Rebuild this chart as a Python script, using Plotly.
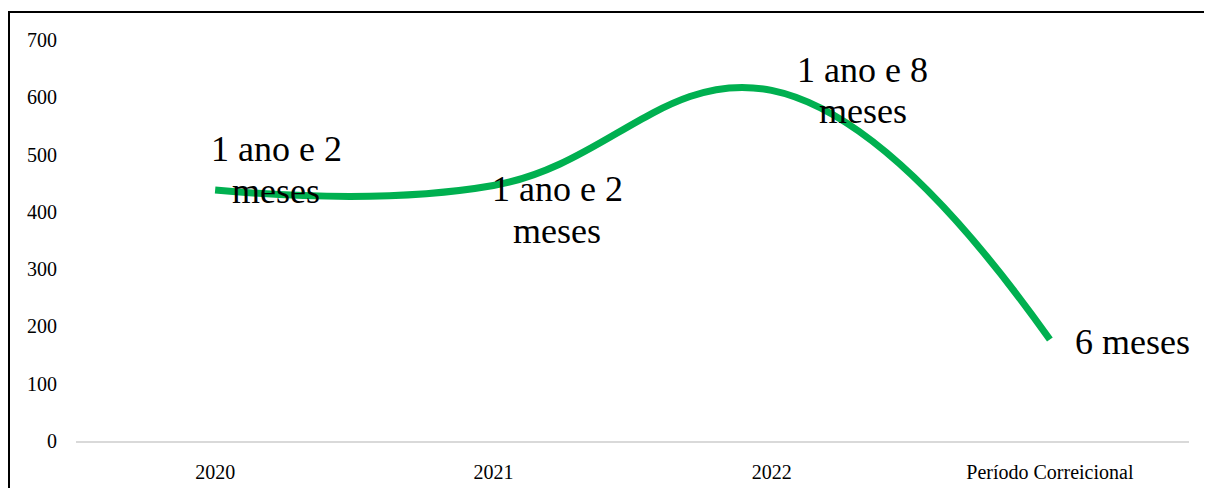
import plotly.graph_objects as go

categories = ["2020", "2021", "2022", "Período Correicional"]
values = [438, 446, 612, 177]
labels = [["1 ano e 2", "meses"], ["1 ano e 2", "meses"], ["1 ano e 8", "meses"], ["6 meses"]]
y_ticks = [0, 100, 200, 300, 400, 500, 600, 700]

# label placement (pixel offsets from the point): (xshift, [yshift per line], xanchor)
label_pos = [
    (61, [41, -1], "center"),
    (64, [-3, -45], "center"),
    (91, [20, -21], "center"),
    (23, [-2], "left"),
]

FONT = "Times New Roman, Liberation Serif, serif"

fig = go.Figure()
fig.add_trace(go.Scatter(
    x=categories, y=values, mode="lines",
    line=dict(color="#00B050", width=7, shape="spline", smoothing=1.2),
    hoverinfo="skip", showlegend=False,
))

annotations = []
for i, (val, lines, (xs, yss, xa)) in enumerate(zip(values, labels, label_pos)):
    for line, ys in zip(lines, yss):
        annotations.append(dict(
            x=i, y=val, xref="x", yref="y", text=line, showarrow=False,
            xshift=xs, yshift=ys, xanchor=xa, yanchor="middle",
            font=dict(family=FONT, size=36, color="black"),
        ))

# page body adds an 8px offset; compensate
OFF = 8
W, H = 1212, 488
L, T = 76 - OFF, 40 - OFF
R = W - (1189 - OFF)
B = H - (441 - OFF)
pw, ph = W - L - R, H - T - B

def px2paper_x(px):
    return (px - OFF - L) / pw

def px2paper_y(py):
    return (H - B - (py - OFF)) / ph

border = dict(color="black", width=2)
fig.update_layout(
    width=W, height=H,
    margin=dict(l=L, r=R, t=T, b=B),
    paper_bgcolor="white", plot_bgcolor="white",
    font=dict(family=FONT, size=20, color="black"),
    annotations=annotations,
    shapes=[
        dict(type="line", xref="paper", yref="paper",
             x0=px2paper_x(9), x1=px2paper_x(1240),
             y0=px2paper_y(12), y1=px2paper_y(12), line=border, layer="above"),
        dict(type="line", xref="paper", yref="paper",
             x0=px2paper_x(9), x1=px2paper_x(9),
             y0=px2paper_y(11), y1=px2paper_y(520), line=border, layer="above"),
    ],
    xaxis=dict(
        type="category", range=[-0.5, 3.5], showgrid=False, zeroline=False,
        showline=True, linecolor="#d9d9d9", linewidth=2,
        ticks="", ticklabelstandoff=12,
        tickfont=dict(family=FONT, size=20, color="black"),
    ),
    yaxis=dict(
        range=[0, 700], tickvals=y_ticks, showgrid=False, zeroline=False,
        showline=False, ticks="", ticklabelstandoff=18,
        tickfont=dict(family=FONT, size=20, color="black"),
    ),
)

fig.write_html("out.html")
